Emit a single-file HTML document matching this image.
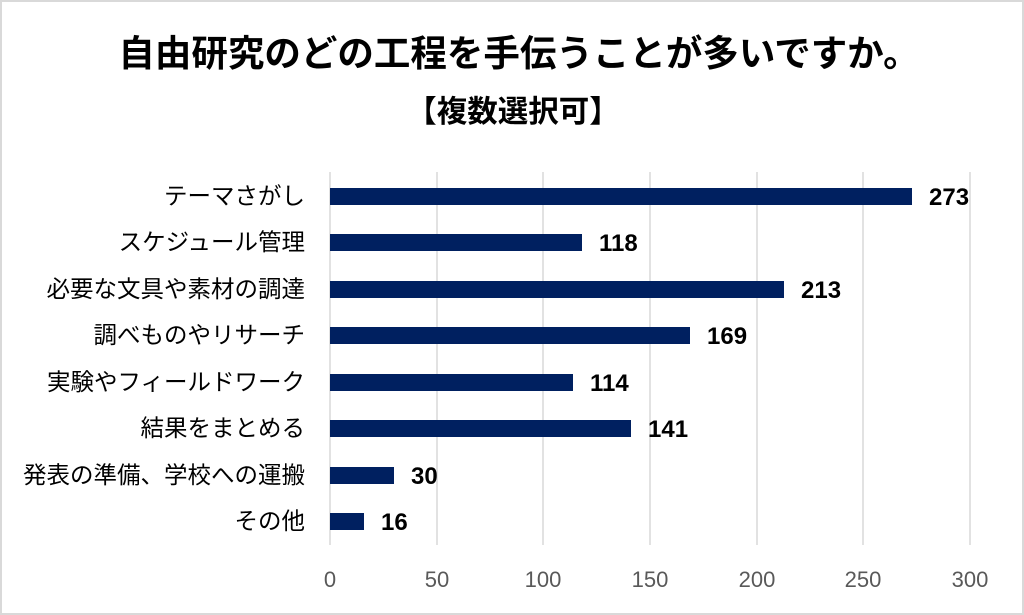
<!DOCTYPE html>
<html><head><meta charset="utf-8"><style>
body{margin:0;background:#fff}
svg{display:block}
</style></head><body>
<svg width="1024" height="615" xmlns="http://www.w3.org/2000/svg" font-family="'Liberation Sans','Noto Sans CJK JP',sans-serif">
<rect x="1" y="1" width="1022" height="613" fill="#fff" stroke="#d9d9d9" stroke-width="2"/>
<text x="519" y="66" text-anchor="middle" font-size="36.5" font-weight="bold" fill="#000">自由研究のどの工程を手伝うことが多いですか。</text>
<text x="513" y="122" text-anchor="middle" font-size="30.5" font-weight="bold" fill="#000">【複数選択可】</text>
<g stroke="#d9d9d9" stroke-width="1.5">
<line x1="330" y1="172" x2="330" y2="545"/>
<line x1="437" y1="172" x2="437" y2="545"/>
<line x1="543" y1="172" x2="543" y2="545"/>
<line x1="650" y1="172" x2="650" y2="545"/>
<line x1="757" y1="172" x2="757" y2="545"/>
<line x1="863" y1="172" x2="863" y2="545"/>
<line x1="970" y1="172" x2="970" y2="545"/>
</g>
<g font-size="22" fill="#595959" text-anchor="middle">
<text x="330" y="587">0</text><text x="437" y="587">50</text><text x="543" y="587">100</text><text x="650" y="587">150</text><text x="757" y="587">200</text><text x="863" y="587">250</text><text x="970" y="587">300</text>
</g>
<g fill="#002060">
<rect x="330" y="188" width="582" height="17"/>
<rect x="330" y="234" width="252" height="17"/>
<rect x="330" y="281" width="454" height="17"/>
<rect x="330" y="327" width="360" height="17"/>
<rect x="330" y="374" width="243" height="17"/>
<rect x="330" y="420" width="301" height="17"/>
<rect x="330" y="467" width="64" height="17"/>
<rect x="330" y="513" width="34" height="17"/>
</g>
<g font-size="24" font-weight="bold" fill="#000">
<text x="929" y="205">273</text>
<text x="599" y="251">118</text>
<text x="801" y="298">213</text>
<text x="707" y="344">169</text>
<text x="590" y="391">114</text>
<text x="648" y="437">141</text>
<text x="411" y="484">30</text>
<text x="381" y="530">16</text>
</g>
<g font-size="23.5" fill="#000" text-anchor="end">
<text x="305" y="204">テーマさがし</text>
<text x="305" y="250">スケジュール管理</text>
<text x="305" y="297">必要な文具や素材の調達</text>
<text x="305" y="343">調べものやリサーチ</text>
<text x="305" y="390">実験やフィールドワーク</text>
<text x="305" y="436">結果をまとめる</text>
<text x="305" y="483">発表の準備、学校への運搬</text>
<text x="305" y="529">その他</text>
</g>
</svg>
</body></html>
